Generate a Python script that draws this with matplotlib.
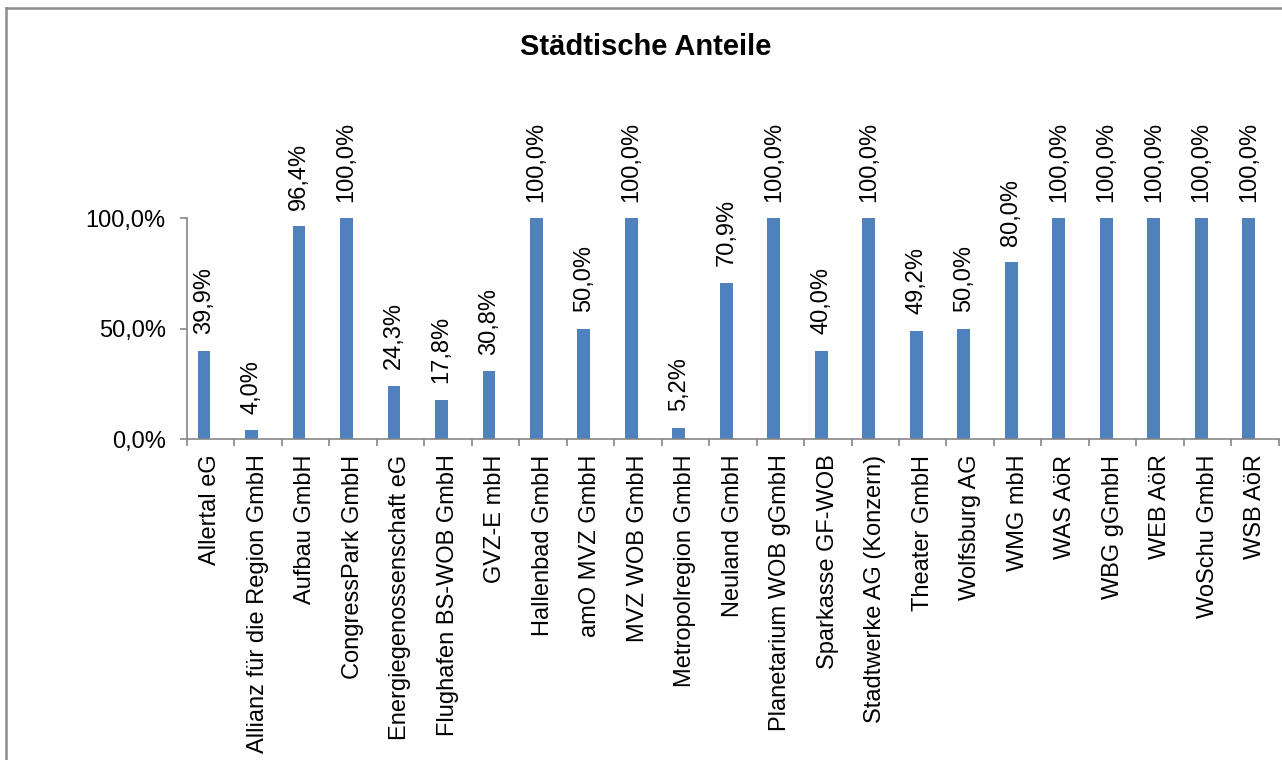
import matplotlib
matplotlib.use("Agg")
import matplotlib.pyplot as plt
from matplotlib.lines import Line2D
import numpy as np

plt.rcParams['font.family'] = ['Liberation Sans', 'DejaVu Sans']

# data
names = ['Allertal eG', 'Allianz für die Region GmbH', 'Aufbau GmbH', 'CongressPark GmbH',
         'Energiegenossenschaft eG', 'Flughafen BS-WOB GmbH', 'GVZ-E mbH', 'Hallenbad GmbH',
         'amO MVZ GmbH', 'MVZ WOB GmbH', 'Metropolregion GmbH', 'Neuland GmbH',
         'Planetarium WOB gGmbH', 'Sparkasse GF-WOB', 'Stadtwerke AG (Konzern)', 'Theater GmbH',
         'Wolfsburg AG', 'WMG mbH', 'WAS AöR', 'WBG gGmbH', 'WEB AöR', 'WoSchu GmbH', 'WSB AöR']
anteile = [39.9, 4.0, 96.4, 100.0, 24.3, 17.8, 30.8, 100.0, 50.0, 100.0, 5.2, 70.9,
           100.0, 40.0, 100.0, 49.2, 50.0, 80.0, 100.0, 100.0, 100.0, 100.0, 100.0]
y_ticks = [0, 50, 100]

fig = plt.figure(figsize=(12.82, 7.6), dpi=100)
ax = fig.add_axes([0.1456, 0.422, 0.852, 0.2908])

x = np.arange(len(names))
bw = 0.27
ax.bar(x - bw / 2, anteile, width=bw, color='#4F81BD')

for xi, v in zip(x, anteile):
    lbl = f'{v:.1f}%'.replace('.', ',')
    ax.annotate(lbl, (xi - bw / 2, v), xytext=(0, 12), textcoords='offset points',
                rotation=90, ha='center', va='bottom', fontsize=17, annotation_clip=False)

ax.set_xlim(-0.5, len(names) - 0.5)
ax.set_ylim(0, 100)
ax.set_yticks(y_ticks)
ax.set_yticklabels([f'{t:.1f}%'.replace('.', ',') for t in y_ticks], fontsize=17)
ax.set_xticks(x)
ax.set_xticklabels(names, rotation=90, fontsize=17, va='top', ha='center')
ax.tick_params(axis='x', length=0, pad=11)
ax.set_xticks(np.arange(len(names) + 1) - 0.5, minor=True)
ax.tick_params(axis='x', which='minor', length=5, color='#868686', width=1.2)
ax.tick_params(axis='y', length=5, color='#868686', width=1.2, pad=10)

for s in ['top', 'right']:
    ax.spines[s].set_visible(False)
for s in ['left', 'bottom']:
    ax.spines[s].set_color('#868686')
    ax.spines[s].set_linewidth(1.2)

fig.text(0.504, 0.938, 'Städtische Anteile', ha='center', va='center', fontsize=21, fontweight='bold')

# chart area border (left and top visible)
fig.add_artist(Line2D([5.5 / 1282, 5.5 / 1282], [0, 1 - 7.5 / 760], color='#8c8c8c', lw=1.8,
                      transform=fig.transFigure))
fig.add_artist(Line2D([5.5 / 1282, 1], [1 - 7.5 / 760, 1 - 7.5 / 760], color='#8c8c8c', lw=1.8,
                      transform=fig.transFigure))

fig.savefig('out.png', dpi=100)
